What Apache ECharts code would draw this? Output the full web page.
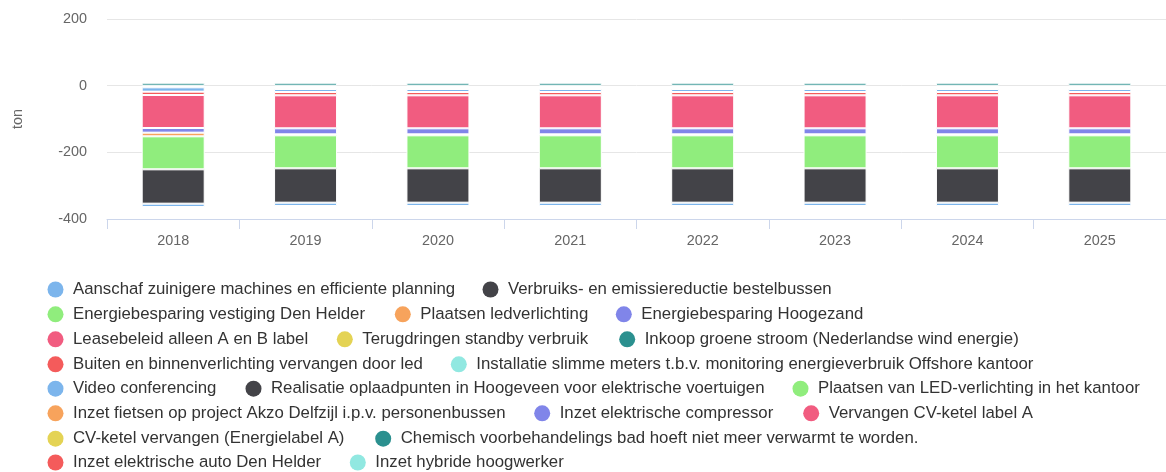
<!DOCTYPE html>
<html>
<head>
<meta charset="utf-8">
<script src="https://cdn.jsdelivr.net/npm/echarts@6/dist/echarts.min.js"></script>
<style>
html,body{margin:0;padding:0;background:#fff;}
#chart{width:1166px;height:472px;}
</style>
</head>
<body>
<div id="chart"></div>
<script>
// ---- data ----
const years = ['2018','2019','2020','2021','2022','2023','2024','2025'];
const yTicks = { min: -400, max: 200, step: 200 };
const unitLabel = 'ton';

const seriesNames = [
  'Aanschaf zuinigere machines en efficiente planning',
  'Verbruiks- en emissiereductie bestelbussen',
  'Energiebesparing vestiging Den Helder',
  'Plaatsen ledverlichting',
  'Energiebesparing Hoogezand',
  'Leasebeleid alleen A en B label',
  'Terugdringen standby verbruik',
  'Inkoop groene stroom (Nederlandse wind energie)',
  'Buiten en binnenverlichting vervangen door led',
  'Installatie slimme meters t.b.v. monitoring energieverbruik Offshore kantoor',
  'Video conferencing',
  'Realisatie oplaadpunten in Hoogeveen voor elektrische voertuigen',
  'Plaatsen van LED-verlichting in het kantoor',
  'Inzet fietsen op project Akzo Delfzijl i.p.v. personenbussen',
  'Inzet elektrische compressor',
  'Vervangen CV-ketel label A',
  'CV-ketel vervangen (Energielabel A)',
  'Chemisch voorbehandelings bad hoeft niet meer verwarmt te worden.',
  'Inzet elektrische auto Den Helder',
  'Inzet hybride hoogwerker'
];

const aanschaf      = [-10,-10,-10,-10,-10,-10,-10,-10];
const verbruiks     = [-103,-103,-103,-103,-103,-103,-103,-103];
const denHelder     = [-99,-99,-99,-99,-99,-99,-99,-99];
const ledverlichting= [-11,-3,-3,-3,-3,-3,-3,-3];
const hoogezand     = [-14,-18,-18,-18,-18,-18,-18,-18];
const leasebeleid   = [-99,-99,-99,-99,-99,-99,-99,-99];
const standby       = [0,0,0,0,0,0,0,0];
const groeneStroom  = [9,9,9,9,9,9,9,9];
const buitenBinnen  = [-10,-10,-10,-10,-10,-10,-10,-10];
const slimmeMeters  = [0,0,0,0,0,0,0,0];
const video         = [-13,-9,-9,-9,-9,-9,-9,-9];
const oplaadpunten  = [0,0,0,0,0,0,0,0];
const ledKantoor    = [0,0,0,0,0,0,0,0];
const fietsen       = [0,0,0,0,0,0,0,0];
const compressor    = [0,0,0,0,0,0,0,0];
const cvLabelA      = [0,0,0,0,0,0,0,0];
const cvKetel       = [-1,-2,-2,-2,-2,-2,-2,-2];
const chemisch      = [-1,-2,-2,-2,-2,-2,-2,-2];
const autoDenHelder = [-1,-3,-3,-3,-3,-3,-3,-3];
const hoogwerker    = [-2,-3,-3,-3,-3,-3,-3,-3];

const seriesValues = [aanschaf, verbruiks, denHelder, ledverlichting, hoogezand, leasebeleid,
  standby, groeneStroom, buitenBinnen, slimmeMeters, video, oplaadpunten, ledKantoor, fietsen,
  compressor, cvLabelA, cvKetel, chemisch, autoDenHelder, hoogwerker];

// ---- style / layout ----
const palette = ['#7cb5ec','#434348','#90ed7d','#f7a35c','#8085e9','#f15c80','#e4d354','#2b908f','#f45b5b','#91e8e1'];
const FONT = 'Liberation Sans, Arial, Helvetica, sans-serif';

// legend item placement: [row center y, icon center x]
const legendPlace = [
  [289.5, 60], [289.5, 495],
  [314.3, 60], [314.3, 407.3], [314.3, 628.3],
  [339.3, 60], [339.3, 349.3], [339.3, 631.7],
  [364.3, 60], [364.3, 463.3],
  [388.7, 60], [388.7, 258], [388.7, 805],
  [413.3, 60], [413.3, 546.7], [413.3, 815.7],
  [438.7, 60], [438.7, 387.7],
  [462.5, 60], [462.5, 362.3]
];

const legends = seriesNames.map((name, i) => ({
  data: [name],
  orient: 'horizontal',
  left: legendPlace[i][1] - 12.5,
  top: legendPlace[i][0] - 9,
  padding: 0,
  itemWidth: 25,
  itemHeight: 16,
  icon: 'circle',
  itemStyle: { borderWidth: 0 },
  textStyle: { color: '#333333', fontSize: 16.8, fontFamily: FONT, lineHeight: 18 }
}));

const series = [];
for (let i = seriesNames.length - 1; i >= 0; i--) {
  series.push({
    name: seriesNames[i],
    type: 'bar',
    stack: 'total',
    barWidth: 63,
    itemStyle: { color: palette[i % 10], borderColor: '#ffffff', borderWidth: 1 },
    emphasis: { disabled: true },
    data: seriesValues[i]
  });
}

const chart = echarts.init(document.getElementById('chart'), null, { renderer: 'canvas' });
chart.setOption({
  animation: false,
  backgroundColor: '#ffffff',
  legend: legends,
  grid: { left: 107, top: 19, width: 1062, height: 200 },
  xAxis: {
    type: 'category',
    data: years,
    axisLine: { onZero: false, lineStyle: { color: '#ccd6eb', width: 1 } },
    axisTick: { show: true, length: 10, lineStyle: { color: '#ccd6eb' } },
    axisLabel: { color: '#666666', fontSize: 14.4, fontFamily: FONT, margin: 15 }
  },
  yAxis: {
    type: 'value',
    min: yTicks.min, max: yTicks.max, interval: yTicks.step,
    name: unitLabel,
    nameLocation: 'middle',
    nameGap: 82,
    nameTextStyle: { color: '#666666', fontSize: 14.4, fontFamily: FONT },
    axisLine: { show: false },
    axisTick: { show: false },
    axisLabel: { color: '#666666', fontSize: 14.4, fontFamily: FONT, margin: 20 },
    splitLine: { lineStyle: { color: '#e6e6e6', width: 1 } }
  },
  series: series
});
</script>
</body>
</html>
